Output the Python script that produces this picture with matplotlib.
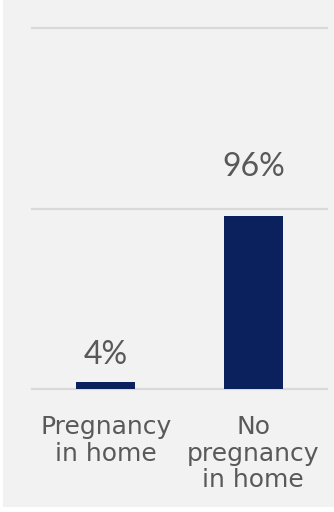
import matplotlib
matplotlib.use("Agg")
import matplotlib.pyplot as plt
from matplotlib.patches import Rectangle

# data
categories = ["Pregnancy\nin home", "No\npregnancy\nin home"]
shares = [0.04, 0.96]
value_labels = ["4%", "96%"]

plt.rcParams['font.family'] = ['Lato', 'DejaVu Sans']

bg = '#f2f2f2'
bar_color = '#0b215e'
text_color = '#595959'
grid_color = '#d9d9d9'

fig = plt.figure(figsize=(3.34, 5.12), dpi=100, facecolor='white')
# gray panel (small white margin on the left and bottom)
fig.patches.append(Rectangle((3 / 334, 5 / 512), 1 - 3 / 334, 1 - 5 / 512,
                             transform=fig.transFigure, facecolor=bg,
                             edgecolor='none', zorder=-10))

ax = fig.add_axes([32 / 334, (512 - 389) / 512, 295 / 334, 361 / 512])
ax.set_facecolor('none')

x = list(range(len(categories)))
ax.bar(x, shares, width=0.4, color=bar_color, zorder=3)
ax.set_xlim(-0.5, 1.5)
ax.set_ylim(0, 2)

# gridlines
ax.set_yticks([0, 1, 2])
ax.yaxis.grid(True, color=grid_color, linewidth=1.6)
for gl in ax.get_ygridlines():
    gl.set_clip_on(False)
ax.set_axisbelow(True)
ax.tick_params(axis='y', length=0, labelleft=False)

for s in ax.spines.values():
    s.set_visible(False)

# value labels (gap above bar differs in the original)
label_gaps = [13, 28.5]
for xi, v, lab, gap in zip(x, shares, value_labels, label_gaps):
    ax.annotate(lab, (xi, v), xytext=(0, gap), textcoords='offset points',
                ha='center', va='baseline', fontsize=23, color=text_color,
                family='Lato')

ax.set_xticks(x)
ax.set_xticklabels(categories, fontsize=18, color=text_color,
                   linespacing=1.12, ma='center', family='DejaVu Sans')
ax.tick_params(axis='x', length=0, pad=19)

fig.savefig('out.png', dpi=100, facecolor=fig.get_facecolor())
